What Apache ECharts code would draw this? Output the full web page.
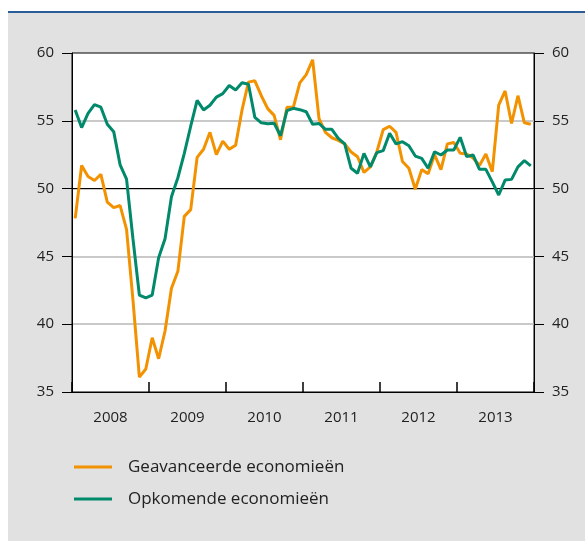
<!DOCTYPE html>
<html>
<head>
<meta charset="utf-8">
<script src="https://cdn.jsdelivr.net/npm/echarts@6/dist/echarts.min.js"></script>
<style>
  html, body { margin: 0; padding: 0; background: #fff; }
  .wrap { position: relative; width: 585px; height: 541px; }
  .topline { position: absolute; left: 8px; top: 11px; width: 577px; height: 2px; background: #2a5c97; }
  .panel { position: absolute; left: 8px; top: 13px; width: 577px; height: 528px; background: #e1e1e1; }
  #chart { position: absolute; left: 0; top: 0; width: 585px; height: 541px; }
</style>
</head>
<body>
<div class="wrap">
  <div class="topline"></div>
  <div class="panel"></div>
  <div id="chart"></div>
</div>
<script>
// jaren op de x-as, 12 maanden per jaar
const years = ["2008", "2009", "2010", "2011", "2012", "2013"];
const yTicks = [35, 40, 45, 50, 55, 60];

// PMI geavanceerde economieën (jan 2008 - dec 2013)
const geavanceerd = [
  47.8, 51.7, 50.9, 50.6, 51.05, 49.0, 48.6, 48.75, 47.0, 41.8, 36.1, 36.7,
  39.0, 37.45, 39.5, 42.65, 43.9, 47.95, 48.45, 52.3, 52.9, 54.15, 52.5, 53.5,
  52.9, 53.2, 55.8, 57.85, 57.95, 56.85, 55.9, 55.4, 53.6, 56.0, 56.0, 57.8,
  58.4, 59.5, 55.15, 54.15, 53.75, 53.55, 53.3, 52.7, 52.35, 51.2, 51.6, 52.7,
  54.35, 54.6, 54.15, 52.0, 51.5, 49.95, 51.4, 51.1, 52.5, 51.4, 53.3, 53.4,
  52.6, 52.55, 52.25, 51.7, 52.55, 51.25, 56.15, 57.2, 54.8, 56.85, 54.85, 54.75
];

// PMI opkomende economieën
const opkomend = [
  55.8, 54.5, 55.55, 56.2, 56.0, 54.75, 54.2, 51.75, 50.7, 46.3, 42.15, 41.95,
  42.15, 44.9, 46.3, 49.4, 50.8, 52.6, 54.6, 56.5, 55.8, 56.15, 56.75, 57.0,
  57.6, 57.27, 57.8, 57.7, 55.25, 54.85, 54.78, 54.82, 53.9, 55.75, 55.92, 55.82,
  55.67, 54.75, 54.8, 54.37, 54.37, 53.7, 53.3, 51.5, 51.13, 52.6, 51.6, 52.65,
  52.8, 54.08, 53.3, 53.46, 53.16, 52.4, 52.23, 51.5, 52.72, 52.48, 52.85, 52.85,
  53.78, 52.36, 52.48, 51.42, 51.42, 50.5, 49.53, 50.63, 50.68, 51.6, 52.06, 51.67
];

const months = [];
years.forEach(function (y) {
  for (let m = 1; m <= 12; m++) months.push(y + "-" + m);
});

const fontFamily = "'Open Sans', sans-serif";
const textColor = "#222";

function yAxisDef(pos) {
  return {
    type: "value",
    position: pos,
    min: yTicks[0],
    max: yTicks[yTicks.length - 1],
    interval: 5,
    axisLine: { show: true, lineStyle: { color: "#000", width: 1 } },
    axisTick: { show: true, inside: false, length: 10, lineStyle: { color: "#000", width: 1 } },
    axisLabel: { color: textColor, fontSize: 15, fontFamily: fontFamily, margin: 18 },
    splitLine: {
      show: pos === "left",
      showMinLine: false,
      showMaxLine: false,
      lineStyle: { color: "#b7b7b7", width: 1.5 }
    }
  };
}

const option = {
  animation: false,
  backgroundColor: "transparent",
  grid: {
    left: 72, right: 51, top: 53, bottom: 149,
    show: true, backgroundColor: "#fff", borderColor: "#000", borderWidth: 1
  },
  legend: {
    orient: "vertical",
    left: 74,
    top: 457,
    padding: 0,
    icon: "rect",
    itemWidth: 38,
    itemHeight: 3,
    itemGap: 12,
    textStyle: { color: textColor, fontSize: 17, fontFamily: fontFamily, lineHeight: 20, padding: [0, 0, 0, 11] },
    data: ["Geavanceerde economieën", "Opkomende economieën"]
  },
  xAxis: [
    {
      type: "category",
      data: months,
      boundaryGap: true,
      position: "bottom",
      show: false
    },
    {
      type: "category",
      data: years,
      boundaryGap: true,
      position: "bottom",
      axisLine: { show: true, lineStyle: { color: "#000", width: 1 } },
      axisTick: { show: true, inside: true, length: 10, lineStyle: { color: "#000", width: 1.5 } },
      axisLabel: { color: textColor, fontSize: 15, fontFamily: fontFamily, margin: 18 },
      splitLine: { show: false }
    }
  ],
  yAxis: [yAxisDef("left"), yAxisDef("right")],
  series: [
    {
      name: "Geavanceerde economieën",
      type: "line",
      xAxisIndex: 0,
      yAxisIndex: 0,
      data: geavanceerd,
      symbol: "none",
      color: "#f39200",
      lineStyle: { width: 3, color: "#f39200" },
      z: 3,
      markLine: {
        silent: true,
        symbol: ["none", "none"],
        label: { show: false },
        lineStyle: { color: "#000", width: 1.2, type: "solid" },
        data: [{ yAxis: 50 }],
        z: 1
      }
    },
    {
      name: "Opkomende economieën",
      type: "line",
      xAxisIndex: 0,
      yAxisIndex: 0,
      data: opkomend,
      symbol: "none",
      color: "#00896b",
      lineStyle: { width: 3, color: "#00896b" },
      z: 4
    }
  ]
};

const chartObj = echarts.init(document.getElementById("chart"));
chartObj.setOption(option);
</script>
</body>
</html>
